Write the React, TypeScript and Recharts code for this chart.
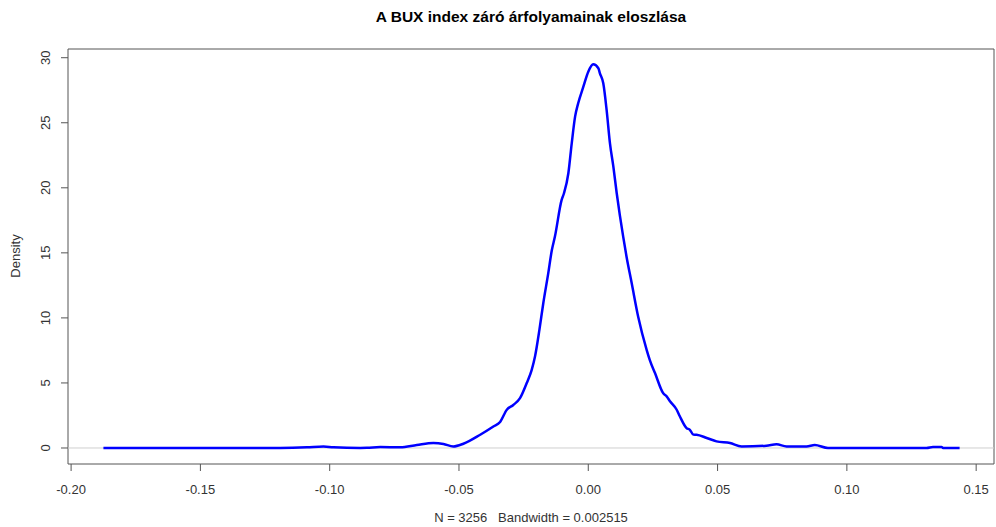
import React from "react";
import { LineChart, Line, XAxis, YAxis, ReferenceArea, ReferenceLine } from "recharts";

// BUX daily returns - kernel density estimate
const returns = [
  -0.1875, -0.1501, -0.1192, -0.1088, -0.1024, -0.0985, -0.0882, -0.0856, -0.0804, -0.0727,
  -0.0663, -0.0599, -0.056, -0.0522, -0.0483, -0.0418, -0.0367, -0.0341, -0.0315, -0.029,
  -0.0264, -0.0238, -0.0219, -0.0206, -0.0189, -0.0174, -0.0155, -0.0141, -0.0129, -0.0103,
  -0.0094, -0.0077, -0.0064, -0.0051, -0.0039, -0.0019, 0.0, 0.0019, 0.0039, 0.0045,
  0.0058, 0.0071, 0.0084, 0.0097, 0.011, 0.0122, 0.0135, 0.0148, 0.0168,
  0.0193, 0.0226, 0.0238, 0.0258, 0.029, 0.0303, 0.0316, 0.0342, 0.0354, 0.038,
  0.0393, 0.0406, 0.0419, 0.0458, 0.0496, 0.0548, 0.0593, 0.0689, 0.0728, 0.0767,
  0.0844, 0.0876, 0.0927, 0.1308, 0.1333, 0.1366, 0.1372, 0.1436,
];
const density = [
  0.0, 0.0, 0.0, 0.05, 0.12, 0.05, 0.0, 0.01, 0.08, 0.05,
  0.23, 0.38, 0.31, 0.12, 0.33, 1.02, 1.65, 2.0, 2.94, 3.31,
  3.83, 4.99, 5.99, 7.03, 9.08, 11.13, 13.4, 15.2, 16.25, 19.07,
  19.58, 21.12, 23.42, 25.47, 26.5, 27.77, 28.92, 29.49, 29.19, 28.8,
  28.03, 25.98, 23.4, 21.63, 19.58, 17.9, 16.25, 14.7, 12.66,
  10.09, 7.53, 6.76, 5.76, 4.2, 3.97, 3.59, 2.94, 2.44, 1.53,
  1.4, 1.03, 1.02, 0.77, 0.51, 0.38, 0.12, 0.18, 0.28, 0.12,
  0.12, 0.23, 0.0, 0.0, 0.08, 0.08, 0.0, 0.0,
];
const xTicks = [-0.2, -0.15, -0.1, -0.05, 0, 0.05, 0.1, 0.15];
const yTicks = [0, 5, 10, 15, 20, 25, 30];

const data = returns.map((x, i) => ({ x, y: density[i] }));

const X_DOMAIN: [number, number] = [-0.2012, 0.1569];
const Y_DOMAIN: [number, number] = [-1.23, 30.67];
const FONT = "'Liberation Sans', Arial, Helvetica, sans-serif";
const INK = "#333";

function YTick({ y, payload }: any) {
  return (
    <text
      x={46}
      y={y}
      transform={`rotate(-90 46 ${y})`}
      textAnchor="middle"
      dominantBaseline="central"
      fill={INK}
      fontSize={13}
      fontFamily={FONT}
    >
      {payload.value}
    </text>
  );
}

export default function App() {
  return (
    <div style={{ position: "absolute", left: 0, top: 0, width: 996, height: 527, background: "#fff", fontFamily: FONT }}>
      <div style={{ position: "absolute", left: 0, width: 1062, top: 8, textAlign: "center", fontWeight: "bold", fontSize: 15.5, color: "#000" }}>
        A BUX index záró árfolyamainak eloszlása
      </div>
      <LineChart width={996} height={527} data={data} margin={{ top: 49, right: 2, left: 0, bottom: 0 }}>
        <XAxis
          dataKey="x"
          type="number"
          domain={X_DOMAIN}
          ticks={xTicks}
          allowDataOverflow
          axisLine={false}
          tickLine={{ stroke: "#555" }}
          tickSize={7}
          tickMargin={14}
          height={63}
          interval={0}
          tickFormatter={(v: number) => v.toFixed(2)}
          tick={{ fill: INK, fontSize: 13, fontFamily: FONT }}
        />
        <YAxis
          type="number"
          domain={Y_DOMAIN}
          ticks={yTicks}
          allowDataOverflow
          axisLine={false}
          tickLine={{ stroke: "#555" }}
          tickSize={7}
          width={68}
          interval={0}
          tick={<YTick />}
        />
        <ReferenceLine y={0} stroke="#cfcfcf" strokeWidth={1} />
        <ReferenceArea x1={X_DOMAIN[0]} x2={X_DOMAIN[1]} y1={Y_DOMAIN[0]} y2={Y_DOMAIN[1]} fill="none" stroke="#555" strokeWidth={1} fillOpacity={0} />
        <Line dataKey="y" type="monotone" stroke="#0000ff" strokeWidth={2.5} dot={false} isAnimationActive={false} />
      </LineChart>
      <div style={{ position: "absolute", left: 0, width: 1062, top: 510, textAlign: "center", fontSize: 13, color: INK, whiteSpace: "pre" }}>
        {"N = 3256   Bandwidth = 0.002515"}
      </div>
      <div
        style={{ position: "absolute", left: 15, top: 256, fontSize: 13, color: INK, transform: "translate(-50%, -50%) rotate(-90deg)", whiteSpace: "nowrap" }}
      >
        Density
      </div>
    </div>
  );
}
